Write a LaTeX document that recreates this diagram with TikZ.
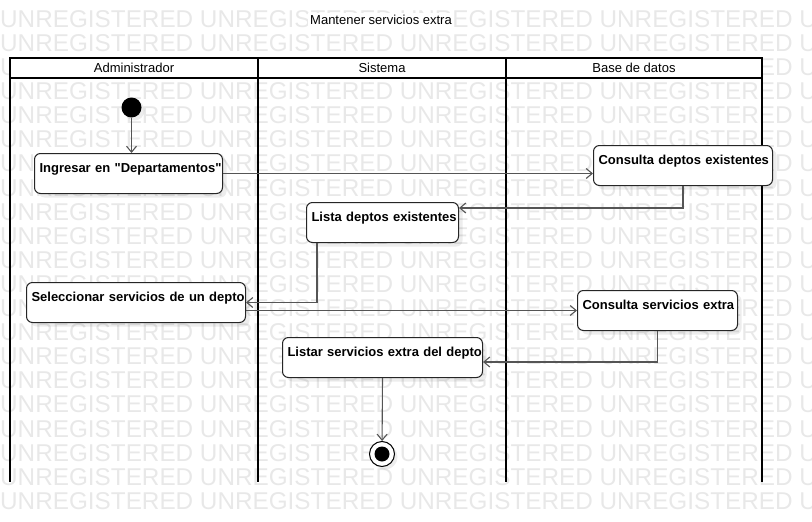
\documentclass[tikz,border=0pt]{standalone}
\usepackage{fontspec}
\setmainfont{Liberation Sans}
\usetikzlibrary{arrows.meta}
\usetikzlibrary{shadows}

\definecolor{wmgray}{HTML}{E8E8E8}
\definecolor{linegray}{HTML}{555555}

\tikzset{
    watermark/.style={anchor=west, inner sep=0pt, text=wmgray, font=\fontsize{24.3}{26}\selectfont},
    lane/.style={draw=black, line width=1.8pt},
    header/.style={inner sep=0pt, font=\fontsize{13}{15}\selectfont},
    action/.style={draw=black!85, line width=1pt, rounded corners=6pt, fill=white,
        anchor=north west, align=left, inner xsep=5pt, inner ysep=3pt,
        text height=15.5pt, text depth=18.5pt, font=\bfseries\fontsize{13}{15}\selectfont,
        drop shadow={shadow xshift=4pt, shadow yshift=-4pt, fill=black, opacity=0.07}},
    flow/.style={->, draw=linegray, line width=1.1pt}
}

\begin{document}
\begin{tikzpicture}[x=1pt, y=-1pt, >={Straight Barb[length=6pt,width=10pt]}]
    \useasboundingbox (0,0) rectangle (812,522);
    % marca de agua
    \foreach \row in {0,...,20}
        \node[watermark] (wm\row) at (0, {19+24.1*\row}) {UNREGISTERED UNREGISTERED UNREGISTERED UNREGISTERED U};

    \node[fill=white, inner sep=2pt, font=\fontsize{13}{15}\selectfont] (titulo) at (381,20) {Mantener servicios extra};

    % carriles
    \fill[white] (10,58) rectangle (762,78);
    \draw[lane] (10,482) -- (10,58) -- (762,58) -- (762,482);
    \draw[lane] (10,78) -- (762,78);
    \draw[lane] (258,58) -- (258,482);
    \draw[lane] (506,58) -- (506,482);
    \node[header] (hadmin) at (134,68) {Administrador};
    \node[header] (hsistema) at (382,68) {Sistema};
    \node[header] (hbase) at (634,68) {Base de datos};

    % actividades
    \node[circle, fill=black, minimum size=20pt, inner sep=0pt,
        drop shadow={shadow xshift=3pt, shadow yshift=-3pt, fill=black, opacity=0.07}] (inicio) at (131.5,107.5) {};
    \node[action, text width=178pt] (ingresar) at (34,153) {\mbox{Ingresar en \textquotedbl Departamentos\textquotedbl}};
    \node[action, text width=169pt] (consdeptos) at (593,145) {\mbox{Consulta deptos existentes}};
    \node[action, text width=142pt] (lista) at (306,202) {\mbox{Lista deptos existentes}};
    \node[action, text width=209pt] (selecc) at (26,282) {\mbox{Seleccionar servicios de un depto}};
    \node[action, text width=150pt] (conserv) at (577,290) {\mbox{Consulta servicios extra}};
    \node[action, text width=190pt] (listar) at (282,337) {\mbox{Listar servicios extra del depto}};
    \node[circle, draw=black, fill=white, line width=1pt, minimum size=25pt, inner sep=0pt,
        drop shadow={shadow xshift=3pt, shadow yshift=-3pt, fill=black, opacity=0.07},
        path picture={\fill[black] (path picture bounding box.center) circle (7.5pt);}] (fin) at (382,454) {};

    % flujos
    \draw[flow] (inicio) -- (inicio |- ingresar.north);
    \draw[flow] (ingresar.east) -- (consdeptos.west |- ingresar.east);
    \draw[flow] (consdeptos.south) |- ([yshift=-6pt]lista.north east);
    \draw[flow] ([xshift=11pt]lista.south west) |- (selecc.east);
    \draw[flow] (selecc.east |- conserv.west) -- (conserv.west);
    \draw[flow] (conserv.south) |- ([yshift=-4.5pt]listar.east);
    \draw[flow] (listar.south) -- (fin);

\end{tikzpicture}
\end{document}
